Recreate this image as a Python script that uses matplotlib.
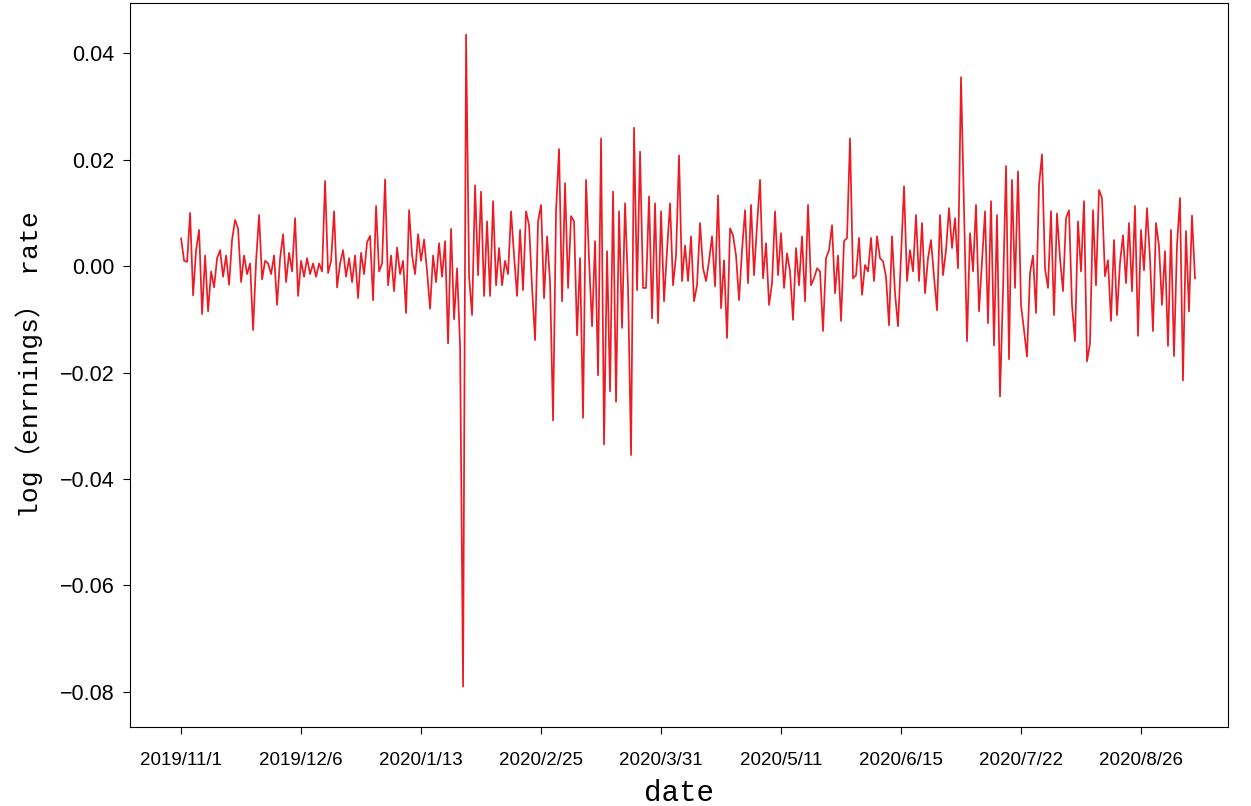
import matplotlib
matplotlib.use('Agg')
import matplotlib.pyplot as plt
import numpy as np

# log earnings rate, in units of 0.001 (one value per row)
seg1 = [5.2, 1.0, 0.8, 10.0, -5.5, 3.0, 6.8, -9.0, 2.0, -8.5,
        -1.0, -4.0, 1.5, 3.0, -2.0, 2.0, -3.5, 5.0, 8.7, 7.0,
        -3.0, 2.0, -1.5, 0.5, -12.0, 1.0, 9.6, -2.5, 1.0, 0.5,
        -1.5, 2.0, -7.3, 1.5, 6.0, -3.0, 2.5, -1.0, 9.0, -5.6]
seg2 = [1.0, -2.0, 1.5, -1.5, 0.5, -2.0, 0.5, -1.0, 16.0, -1.3,
        1.0, 10.3, -4.0, 0.5, 3.0, -2.0, 1.5, -3.0, 2.0, -6.0,
        2.5, -1.5, 4.5, 5.7, -6.4, 11.3, -1.0, 0.5, 16.3, -3.6,
        2.0, -4.7, 3.5, -1.5, 1.0, -8.8, 10.5, 2.0, -1.5, 6.0]
seg3 = [1.0, 5.0, -1.0, -8.0, 2.0, -3.0, 4.3, -2.0, 4.7, -14.5,
        7.0, -10.0, -0.4, -15.0, -79.0, 43.5, -1.9, -9.2, 15.2, -1.7,
        14.0, -5.6, 8.4, -5.6, 12.2, -3.6, 3.4, -3.6, 1.0, -1.5,
        10.3, 2.0, -5.6, 6.8, -4.5, 10.3, 7.7, -4.1, -13.9, 8.4]
seg4 = [11.5, -6.0, 5.6, -3.0, -29.0, 10.5, 22.0, -6.6, 15.6, -4.1,
        9.4, 8.4, -13.0, 1.5, -28.5, 16.2, 1.1, -11.3, 4.7, -20.5,
        24.0, -33.5, 2.8, -23.5, 14.0, -25.5, 10.3, -11.6, 11.8, -4.1,
        -35.5, 26.0, -4.5, 21.5, -4.1, -4.1, 13.1, -9.8, 11.8, -10.7]
seg5 = [10.3, -6.6, 3.0, 11.8, -3.6, 2.0, 20.8, -2.8, 3.9, -2.8,
        5.6, -6.6, -3.6, 8.1, -0.4, -2.8, 1.0, 5.6, -3.8, 13.3,
        -7.9, 1.1, -13.5, 7.1, 5.8, 2.0, -6.4, 3.0, 10.5, -3.2,
        11.5, -1.7, 7.7, 16.2, -2.3, 4.3, -7.3, -3.2, 10.3, -1.7]
seg6 = [6.2, -4.1, 2.4, -1.0, -10.1, 3.4, -3.6, 5.6, -6.6, 11.5,
        -3.6, -2.3, -0.4, -1.0, -12.2, 1.5, 3.0, 7.7, -5.1, 2.0,
        -10.3, 4.7, 5.3, 24.0, -2.3, -1.7, 5.3, -5.4, 0.2, -1.0,
        5.3, -2.8, 5.6, 1.5, 0.9, -2.0, -11.1, 5.6, -5.1, -11.3]
seg7 = [2.0, 15.0, -2.8, 3.0, -1.0, 9.6, -2.8, 8.1, -5.1, 1.5,
        4.9, -2.0, -8.3, 9.6, -1.7, 3.0, 10.9, 3.4, 9.0, -0.4,
        35.5, 10.9, -14.1, 6.2, -1.0, 11.5, -8.5, 0.9, 10.3, -10.7,
        12.2, -14.9, 9.6, -24.5, -4.7, 18.8, -17.5, 16.2, -4.1, 17.8]
seg8 = [-7.3, -12.0, -17.0, -1.3, 2.0, -8.8, 15.2, 21.0, -0.4, -4.1,
        10.3, -9.2, 9.9, 1.5, -4.7, 9.0, 10.5, -7.3, -14.1, 8.4,
        -1.0, 12.2, -17.9, -14.5, 10.5, -3.6, 14.3, 12.8, -1.9, 1.1,
        -10.3, 4.9, -9.2, 0.6, 5.8, -3.2, 8.1, -4.7, 11.3, -13.1]
seg9 = [6.8, -0.8, 10.9, 1.5, -12.2, 8.1, 3.8, -7.3, 2.8, -15.0,
        6.8, -16.9, 3.9, 12.8, -21.5, 6.6, -8.5, 9.5, -2.3]

tick_labels = ['2019/11/1', '2019/12/6', '2020/1/13', '2020/2/25', '2020/3/31',
               '2020/5/11', '2020/6/15', '2020/7/22', '2020/8/26']
tick_step = 40

rate = np.array(seg1 + seg2 + seg3 + seg4 + seg5 + seg6 + seg7 + seg8 + seg9) / 1000
x = np.arange(len(rate))

fig = plt.figure(figsize=(12.51, 8.06), dpi=100)
ax = fig.add_axes([0.104, 0.098, 0.8776, 0.898])
ax.plot(x, rate, color='#ec1c24', linewidth=1.25)

ax.set_xlim(-17, 349)
ax.set_ylim(-0.0866, 0.0494)
ax.set_xticks(np.arange(len(tick_labels)) * tick_step)
ax.set_xticklabels(tick_labels, fontsize=13.5, family='Liberation Sans')
ax.set_yticks([-0.08, -0.06, -0.04, -0.02, 0.00, 0.02, 0.04])
ax.set_yticklabels(['\u22120.08', '\u22120.06', '\u22120.04', '\u22120.02', '0.00', '0.02', '0.04'],
                   fontsize=15.5, family='Liberation Sans')
ax.tick_params(axis='x', pad=13, length=5)
ax.tick_params(axis='y', pad=6, length=5)

lab_font = ['Liberation Mono', 'Noto Sans CJK SC']
ax.set_xlabel('date', fontsize=21, family=lab_font, labelpad=7)
ax.set_ylabel('log\uff08enrnings\uff09 rate', fontsize=19, family=lab_font, labelpad=12)

fig.savefig('out.png', dpi=100)
